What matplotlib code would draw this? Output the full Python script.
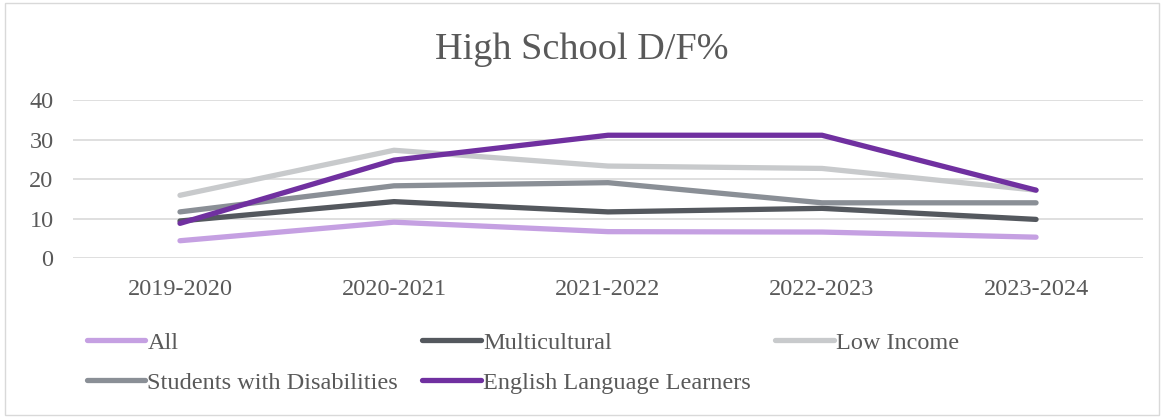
import matplotlib.pyplot as plt
from matplotlib.patches import Rectangle

# school years on the x axis
years = ["2019-2020", "2020-2021", "2021-2022", "2022-2023", "2023-2024"]

# D/F percentage per student group
all_students = [4.4, 9.1, 6.7, 6.6, 5.3]
multicultural = [9.4, 14.3, 11.7, 12.6, 9.8]
low_income = [15.9, 27.3, 23.3, 22.7, 17.2]
disabilities = [11.7, 18.3, 19.1, 14.0, 14.0]
ell = [8.8, 24.8, 31.1, 31.1, 17.2]

plt.rcParams['font.family'] = ['Liberation Serif', 'DejaVu Serif']
text_color = "#595959"

fig = plt.figure(figsize=(11.64, 4.17), dpi=100)
# thin grey frame round the whole chart, like the Excel chart area
fig.patches.append(Rectangle((0.004, 0.004), 0.992, 0.990, transform=fig.transFigure,
                             fill=False, edgecolor="#D9D9D9", linewidth=1))

ax = fig.add_axes([0.0627, 0.381, 0.9193, 0.379])
x = range(len(years))

lw = 3.8
l_all, = ax.plot(x, all_students, color="#C5A0E2", lw=lw, label="All", solid_capstyle="round")
l_mc, = ax.plot(x, multicultural, color="#54585E", lw=lw, label="Multicultural", solid_capstyle="round")
l_li, = ax.plot(x, low_income, color="#C8CACC", lw=lw, label="Low Income", solid_capstyle="round")
l_swd, = ax.plot(x, disabilities, color="#8A8F96", lw=lw, label="Students with Disabilities", solid_capstyle="round")
l_ell, = ax.plot(x, ell, color="#7030A0", lw=lw, label="English Language Learners", solid_capstyle="round")

ax.set_xlim(-0.5, len(years) - 0.5)
ax.set_ylim(0, 40)
ax.set_yticks([0, 10, 20, 30, 40])
ax.set_xticks(list(x))
ax.set_xticklabels(years)
ax.grid(axis="y", color="#D9D9D9", linewidth=1.2)
ax.set_axisbelow(True)
for s in ax.spines.values():
    s.set_visible(False)
ax.tick_params(length=0, labelsize=17.5, labelcolor=text_color)
ax.tick_params(axis="x", pad=15)
ax.tick_params(axis="y", pad=14)

fig.text(0.5, 0.88, "High School D/F%", ha="center", va="center", fontsize=27.5, color=text_color)

# reorder so the legend reads row by row
handles = [l_all, l_swd, l_mc, l_ell, l_li]
leg = fig.legend(handles=handles, labels=[h.get_label() for h in handles], ncol=3,
                 loc="upper left", bbox_to_anchor=(0.066, 0.228), frameon=False,
                 fontsize=17.5, handlelength=2.4, handletextpad=0.1, columnspacing=1.0,
                 labelspacing=0.75, borderaxespad=0)
for t in leg.get_texts():
    t.set_color(text_color)

fig.savefig("out.png", dpi=100)
